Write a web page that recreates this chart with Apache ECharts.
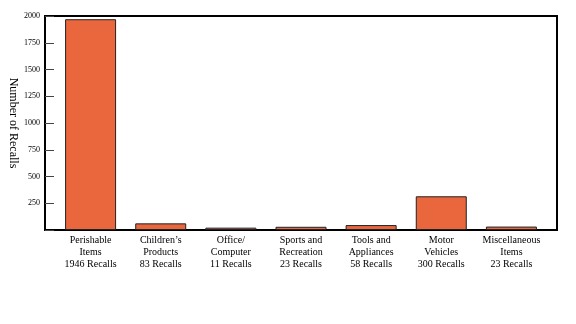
<!DOCTYPE html>
<html>
<head>
<meta charset="utf-8">
<script src="https://cdn.jsdelivr.net/npm/echarts@6/dist/echarts.min.js"></script>
<style>html,body{margin:0;padding:0;background:#fff;}#c{width:576px;height:324px;}</style>
</head>
<body>
<div id="c"></div>
<script>
var categories = [
  "Perishable\nItems\n1946 Recalls",
  "Children’s\nProducts\n83 Recalls",
  "Office/\nComputer\n11 Recalls",
  "Sports and\nRecreation\n23 Recalls",
  "Tools and\nAppliances\n58 Recalls",
  "Motor\nVehicles\n300 Recalls",
  "Miscellaneous\nItems\n23 Recalls"
];
var recalls = [1970, 62, 22, 30, 46, 315, 32];
var yTicks = [250, 500, 750, 1000, 1250, 1500, 1750, 2000];

var chart = echarts.init(document.getElementById('c'), null, {renderer: 'canvas'});
var font = '"Liberation Serif", "DejaVu Serif", serif';
chart.setOption({
  animation: false,
  grid: {left: 45, top: 16, right: 19, bottom: 94, containLabel: false, outerBoundsMode: 'none',
         show: true, borderColor: '#000', borderWidth: 2, backgroundColor: 'transparent'},
  xAxis: {
    type: 'value', min: -0.65, max: 6.65, interval: 1,
    axisLine: {show: true, onZero: false, lineStyle: {color: '#000', width: 2}},
    axisTick: {show: false},
    splitLine: {show: false},
    axisLabel: {
      fontFamily: font, fontSize: 10, color: '#000', lineHeight: 12, margin: 4,
      customValues: [0,1,2,3,4,5,6],
      formatter: function (v) { var i = Math.round(v); return categories[i] || ''; }
    }
  },
  yAxis: {
    type: 'value', min: 0, max: 2000, interval: 250,
    name: 'Number of Recalls', nameLocation: 'middle', nameGap: 26, nameRotate: -90,
    nameMoveOverlap: false,
    nameTextStyle: {fontFamily: font, fontSize: 12, color: '#000'},
    axisLine: {show: true, onZero: false, lineStyle: {color: '#000', width: 2}},
    axisTick: {show: true, inside: true, length: 9, lineStyle: {color: '#444', width: 1}},
    splitLine: {show: false},
    axisLabel: {
      fontFamily: font, fontSize: 8, color: '#000', margin: 5,
      formatter: function (v) { return yTicks.indexOf(v) >= 0 ? String(v) : ''; }
    }
  },
  series: [{
    type: 'bar',
    barWidth: 51,
    data: recalls.map(function (v, i) { return [i, v]; }),
    itemStyle: {color: '#EA673D', borderColor: '#222', borderWidth: 1}
  }]
});
</script>
</body>
</html>
